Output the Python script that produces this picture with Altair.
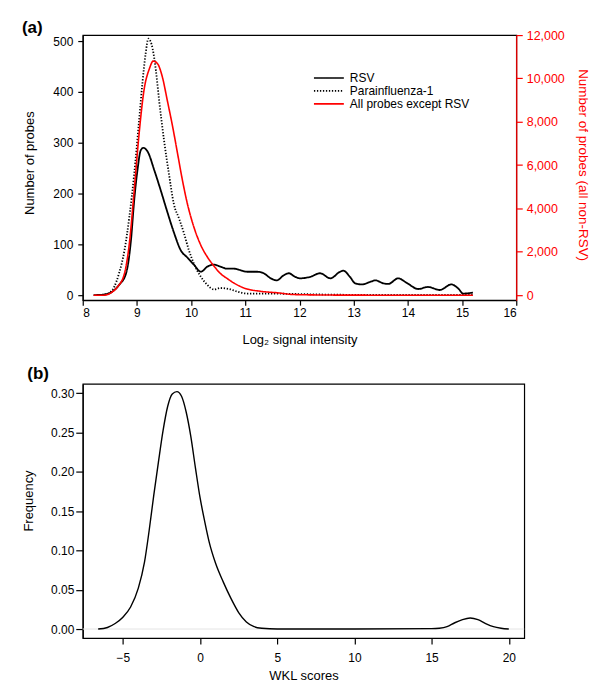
import altair as alt
import pandas as pd

# ---------------- panel (a) data ----------------
names = ["RSV", "Parainfluenza-1", "All probes except RSV"]

rsv_x = [8.2, 8.39, 8.52, 8.67, 8.8, 8.89, 8.95, 9.01, 9.07, 9.12, 9.2, 9.32, 9.44,
         9.56, 9.68, 9.81, 9.93, 10.05, 10.18, 10.3, 10.42, 10.54, 10.67, 10.79, 10.91,
         11.03, 11.22, 11.34, 11.47, 11.58, 11.71, 11.8, 11.92, 12.01, 12.2, 12.38,
         12.57, 12.75, 12.81, 12.93, 13.03, 13.15, 13.33, 13.4, 13.55, 13.64, 13.82,
         13.98, 14.19, 14.37, 14.59, 14.8, 14.93, 15.02, 15.2]
rsv_y = [0, 1, 5, 20, 43, 108, 187, 246, 285, 290, 282, 246, 206, 164, 124, 88, 74,
         60, 46, 56, 60, 56, 52, 52, 49, 46, 46, 43, 33, 29, 39, 43, 36, 33, 36, 43,
         33, 46, 48, 36, 23, 21, 27, 29, 23, 22, 33, 24, 12, 16, 10, 21, 13, 3, 5]

para_x = [8.3, 8.46, 8.58, 8.67, 8.77, 8.86, 8.95, 9.04, 9.1, 9.16, 9.21, 9.29, 9.35,
          9.41, 9.5, 9.59, 9.68, 9.78, 9.87, 9.96, 10.05, 10.18, 10.3, 10.42, 10.54,
          10.7, 10.85, 11.03, 11.4, 12.0, 12.5, 13.0, 14.0, 15.2]
para_y = [0, 3, 16, 43, 88, 154, 239, 344, 416, 475, 505, 485, 442, 383, 305, 239,
          180, 150, 121, 88, 62, 36, 20, 11, 14, 12, 7, 3, 3, 2, 1, 0.5, 0.3, 0.3]

red_x = [8.2, 8.39, 8.52, 8.64, 8.77, 8.86, 8.95, 9.04, 9.13, 9.23, 9.3, 9.38, 9.47,
         9.56, 9.66, 9.75, 9.84, 9.93, 10.05, 10.18, 10.3, 10.42, 10.54, 10.67, 10.79,
         11.0, 11.28, 11.59, 11.89, 12.2, 12.6, 13.5, 15.2]
red_y = [0, 0, 106, 382, 1000, 2380, 4840, 7450, 9450, 10450, 10800, 10680, 10060,
         8990, 7760, 6530, 5300, 4230, 3150, 2300, 1760, 1350, 1000, 760, 560, 310,
         180, 110, 30, 15, 5, 0, 0]

# ---------------- panel (b) data ----------------
wkl_x = [-6.6, -6.0, -5.5, -5.0, -4.5, -4.0, -3.6, -3.3, -3.0, -2.7, -2.4, -2.1, -1.8,
         -1.5, -1.2, -0.9, -0.6, -0.3, 0.0, 0.3, 0.6, 1.0, 1.5, 2.0, 2.5, 3.0, 3.5,
         4.0, 5.0, 10.0, 15.0, 15.5, 16.0, 16.5, 17.0, 17.5, 18.0, 18.5, 19.0, 19.5, 20.0]
wkl_y = [0.0, 0.002, 0.007, 0.015, 0.028, 0.052, 0.085, 0.125, 0.170, 0.212, 0.252,
         0.283, 0.299, 0.302, 0.296, 0.276, 0.245, 0.205, 0.167, 0.137, 0.110, 0.084,
         0.060, 0.039, 0.021, 0.009, 0.003, 0.001, 0.0, 0.0, 0.0005, 0.001, 0.003,
         0.008, 0.012, 0.014, 0.012, 0.007, 0.003, 0.001, 0.0]

FONT = "Liberation Sans"

left_df = pd.concat([
    pd.DataFrame({"x": rsv_x, "y": rsv_y, "series": names[0]}),
    pd.DataFrame({"x": para_x, "y": para_y, "series": names[1]}),
])
right_df = pd.DataFrame({"x": red_x, "y": red_y, "series": names[2]})

legend = alt.Legend(
    title=None, orient="none", legendX=240, legendY=36, padding=0,
    symbolType="M-2.5,0H2.5", symbolSize=144, symbolStrokeWidth=1.6,
    labelFontSize=12, labelOffset=14, rowPadding=0, labelFont=FONT,
)
color = alt.Color("series:N", scale=alt.Scale(domain=names, range=["black", "black", "red"]),
                  legend=legend)
dash = alt.StrokeDash("series:N", scale=alt.Scale(domain=names, range=[[1, 0], [1.3, 1.7], [1, 0]]),
                      legend=legend)

xA = alt.X("x:Q", scale=alt.Scale(domain=[8, 16], nice=False, zero=False),
           axis=alt.Axis(values=list(range(8, 17)), title="Log\u2082 signal intensity",
                         tickSize=5, labelPadding=2, titlePadding=15))

left = alt.Chart(left_df).mark_line(strokeWidth=1.8, interpolate="monotone").encode(
    x=xA,
    y=alt.Y("y:Q", scale=alt.Scale(domain=[-10, 512], nice=False, zero=False),
            axis=alt.Axis(values=[0, 100, 200, 300, 400, 500], title="Number of probes",
                          tickSize=5, labelPadding=5, titlePadding=16, titleY=128)),
    color=color, strokeDash=dash,
)
right = alt.Chart(right_df).mark_line(strokeWidth=1.6, interpolate="monotone").encode(
    x=xA,
    y=alt.Y("y:Q", scale=alt.Scale(domain=[-230, 12000], nice=False, zero=False),
            axis=alt.Axis(orient="right", values=list(range(0, 12001, 2000)), format=",.0f",
                          title="Number of probes (all non-RSV)", titleColor="red",
                          labelColor="red", tickColor="red", domainColor="red",
                          tickSize=6, labelPadding=4, titlePadding=11, titleY=130,
                          labelFontSize=12.5, titleFontSize=13.5)),
    color=color, strokeDash=dash,
)
top = alt.layer(left, right).resolve_scale(y="independent").properties(
    width=435, height=266,
    title=alt.TitleParams("(a)", anchor="start", fontSize=17, fontWeight="bold",
                          offset=-8, dx=-2, font=FONT),
)

dens_df = pd.DataFrame({"x": wkl_x, "y": wkl_y})
zero_df = pd.DataFrame({"y": [0.0]})
xB = alt.X("x:Q", scale=alt.Scale(domain=[-7.6, 21.0], nice=False, zero=False),
           axis=alt.Axis(values=[-5, 0, 5, 10, 15, 20], title="WKL scores",
                         tickSize=6, labelPadding=8.5, titlePadding=6))
yB = alt.Y("y:Q", scale=alt.Scale(domain=[-0.0114, 0.3118], nice=False, zero=False),
           axis=alt.Axis(values=[0, 0.05, 0.10, 0.15, 0.20, 0.25, 0.30], format=".2f",
                         title="Frequency", tickSize=7, labelPadding=2, titlePadding=14.8,
                         titleY=117))
zero_rule = alt.Chart(zero_df).mark_rule(color="#e4e4e4", strokeWidth=1).encode(y=yB)
dens = alt.Chart(dens_df).mark_line(color="black", strokeWidth=1.4,
                                    interpolate="monotone").encode(x=xB, y=yB)
bottom = alt.layer(zero_rule, dens).properties(
    width=443, height=255,
    title=alt.TitleParams("(b)", anchor="start", fontSize=17, fontWeight="bold",
                          offset=0.5, dx=4.5, font=FONT),
)

chart = alt.vconcat(top, bottom, spacing=17).properties(
    padding={"left": 13, "top": 9, "right": 2, "bottom": 5}
).configure(font=FONT).configure_view(stroke="black", strokeWidth=1.2).configure_axis(
    grid=False, domainColor="black", tickColor="black", labelColor="black",
    titleColor="black", labelFontSize=12, titleFontSize=13, titleFontWeight="normal",
    labelFont=FONT, titleFont=FONT, domainWidth=1.2, tickWidth=1.2,
)

chart.save("out.html", embed_options={"renderer": "svg", "actions": False})
